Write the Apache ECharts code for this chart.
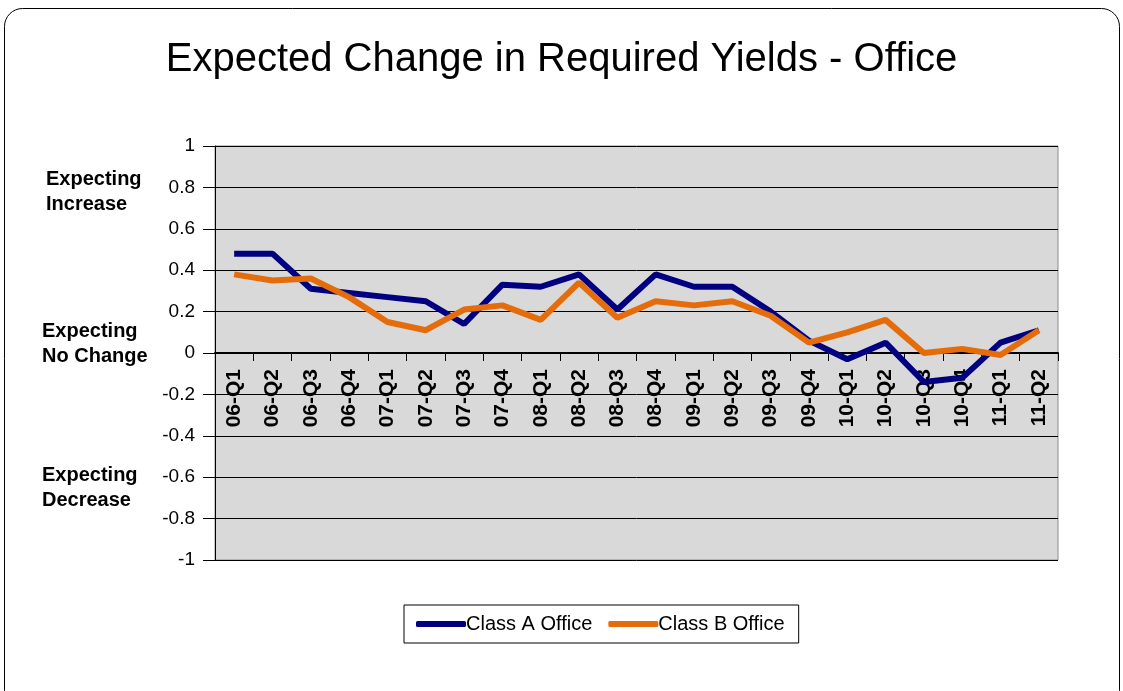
<!DOCTYPE html>
<html>
<head>
<meta charset="utf-8">
<title>Expected Change in Required Yields - Office</title>
<script src="https://cdn.jsdelivr.net/npm/echarts@6/dist/echarts.min.js"></script>
<style>
  html, body { margin: 0; padding: 0; background: #fff; }
  #chart { width: 1123px; height: 691px; }
</style>
</head>
<body>
<div id="chart"></div>
<script>
// quarters along the x axis
const quarters = [
    "06-Q1", "06-Q2", "06-Q3", "06-Q4", "07-Q1", "07-Q2", "07-Q3", "07-Q4",
    "08-Q1", "08-Q2", "08-Q3", "08-Q4", "09-Q1", "09-Q2", "09-Q3", "09-Q4",
    "10-Q1", "10-Q2", "10-Q3", "10-Q4", "11-Q1", "11-Q2"
];

// values
const classA = [
    0.48, 0.48, 0.31, 0.29, 0.27, 0.25, 0.14, 0.33,
    0.32, 0.38, 0.21, 0.38, 0.32, 0.32, 0.2, 0.06,
    -0.03, 0.05, -0.14, -0.12, 0.05, 0.11
];
const classB = [
    0.38, 0.35, 0.36, 0.27, 0.15, 0.11, 0.21, 0.23,
    0.16, 0.34, 0.17, 0.25, 0.23, 0.25, 0.18, 0.05,
    0.1, 0.16, 0.0, 0.02, -0.01, 0.11
];

const seriesNames = ["Class A Office", "Class B Office"];
const sideNotes = [
    { text: "Expecting\nIncrease", value: 0.8, x: 46 },
    { text: "Expecting\nNo Change", value: 0.07, x: 42 },
    { text: "Expecting\nDecrease", value: -0.63, x: 42 }
];

const chart = echarts.init(document.getElementById("chart"));
const font = "'Liberation Sans', Arial, sans-serif";

chart.setOption({
    animation: false,
    title: {
        text: "Expected Change in Required Yields - Office",
        left: "center",
        top: 35,
        textStyle: { fontFamily: font, fontSize: 40, fontWeight: "normal", color: "#000" }
    },
    color: ["#000080", "#e46c0a"],
    grid: {
        left: 215, right: 65, top: 146, bottom: 131,
        show: true, backgroundColor: "#d9d9d9", borderColor: "#8c8c8c", borderWidth: 1
    },
    legend: {
        data: seriesNames,
        bottom: 48,
        left: 404,
        icon: "roundRect",
        itemWidth: 50,
        itemHeight: 6,
        itemGap: 16,
        padding: [9, 14, 9, 12],
        borderColor: "#000",
        borderWidth: 1,
        textStyle: { fontFamily: font, fontSize: 20, color: "#000", padding: [0, 0, 0, -5] }
    },
    xAxis: {
        type: "category",
        data: quarters,
        axisLine: { onZero: false, lineStyle: { color: "#000", width: 2 } },
        axisTick: { show: true, length: 8, interval: 0, lineStyle: { color: "#000" } },
        axisLabel: {
            interval: 0, rotate: 90, margin: 16,
            fontFamily: font, fontSize: 21, fontWeight: "bold", color: "#000"
        }
    },
    yAxis: {
        type: "value",
        min: -1, max: 1, interval: 0.2,
        axisLine: { show: true, lineStyle: { color: "#000" } },
        axisTick: { show: true, length: 12, lineStyle: { color: "#000" } },
        axisLabel: {
            margin: 20, fontFamily: font, fontSize: 19, color: "#000",
            formatter: (v) => String(Math.round(v * 10) / 10)
        },
        splitLine: { lineStyle: { color: "#000", width: 1 } }
    },
    series: [
        {
            name: seriesNames[0], type: "line", data: classA,
            symbol: "none", lineStyle: { width: 6 }, zlevel: 1, z: 3
        },
        {
            name: seriesNames[1], type: "line", data: classB,
            symbol: "none", lineStyle: { width: 6 }, zlevel: 1, z: 4
        }
    ]
});

// lift the category axis up to the zero line (labels included)
const yZero = chart.convertToPixel({ yAxisIndex: 0 }, 0);
const yBottom = chart.convertToPixel({ yAxisIndex: 0 }, -1);

// outer frame and side notes positioned against the y scale
const graphics = [
    {
        id: "frame",
        type: "rect",
        shape: { x: 4.5, y: 8.5, width: 1115, height: 700, r: 18 },
        style: { fill: "none", stroke: "#000", lineWidth: 1 },
        silent: true
    }
];
sideNotes.forEach((n, i) => {
    const y = chart.convertToPixel({ yAxisIndex: 0 }, n.value);
    graphics.push({
        id: "note" + i,
        type: "text",
        left: n.x,
        top: y - 20,
        style: {
            text: n.text, fontFamily: font, fontSize: 20, fontWeight: "bold",
            fill: "#000", lineHeight: 25
        }
    });
});
chart.setOption({ xAxis: { offset: -(yBottom - yZero) }, graphic: graphics });
</script>
</body>
</html>
